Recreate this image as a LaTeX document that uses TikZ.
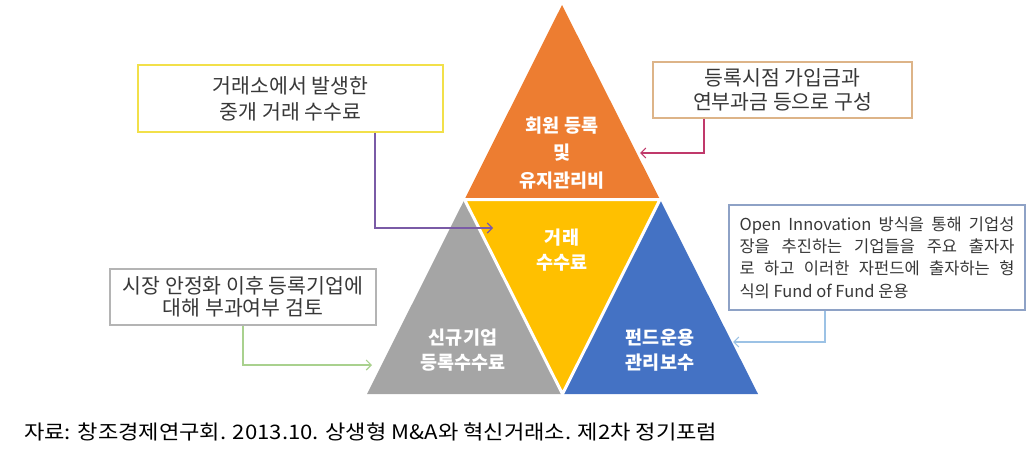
\documentclass[tikz,border=0pt]{standalone}
\usepackage{fontspec}
\usepackage{graphicx}
\setmainfont{Noto Sans CJK KR}
\usetikzlibrary{arrows.meta,calc}
\definecolor{triorange}{HTML}{ED7D31}
\definecolor{triyellow}{HTML}{FFC000}
\definecolor{trigray}{HTML}{A5A5A5}
\definecolor{triblue}{HTML}{4472C4}
\definecolor{bordyellow}{HTML}{F2E04A}
\definecolor{bordtan}{HTML}{DDB488}
\definecolor{bordblue}{HTML}{8EA2C6}
\definecolor{bordgray}{HTML}{B4B4B4}
\definecolor{lnpurple}{HTML}{7A5BA6}
\definecolor{lncrimson}{HTML}{C0396B}
\definecolor{lnblue}{HTML}{9CC2E5}
\definecolor{lngreen}{HTML}{A9D18E}
\definecolor{txtdark}{HTML}{383838}
\begin{document}
\begin{tikzpicture}[x=1pt,y=-1pt,
  lbl/.style={text=white,font=\fontsize{18.5}{25.5}\selectfont\bfseries,align=center,inner sep=0pt},
  notebox/.style={draw,line width=1.1pt,fill=white,text=txtdark,align=center,inner sep=0pt,
     font=\fontsize{20.5}{25}\selectfont},
  conn/.style={line width=1.1pt,-{Straight Barb[length=5pt,width=10pt]}}]
\useasboundingbox (0,0) rectangle (1032,450);
% triangles
\coordinate (A) at (562,5);
\coordinate (L) at (367,394);
\coordinate (R) at (758,394);
\coordinate (ML) at ($(A)!0.5!(L)$);
\coordinate (MR) at ($(A)!0.5!(R)$);
\coordinate (MB) at ($(L)!0.5!(R)$);
\fill[triorange] (A) -- (ML) -- (MR) -- cycle;
\fill[trigray] (ML) -- (L) -- (MB) -- cycle;
\fill[triyellow] (ML) -- (MR) -- (MB) -- cycle;
\fill[triblue] (MR) -- (MB) -- (R) -- cycle;
\draw[white,line width=3pt,line join=miter] (ML) -- (MR) -- (MB) -- cycle;
% labels
\node[lbl,font=\fontsize{18.5}{27.5}\selectfont\bfseries] (lo) at (562,153) {회원 등록\\및\\유지관리비};
\node[lbl] (ly) at (562,250) {거래\\수수료};
\node[lbl] (lg) at (463,350) {신규기업\\등록수수료};
\node[lbl] (lb) at (660,350) {펀드운용\\관리보수};
% boxes
\node[notebox,draw=bordyellow,minimum width=305pt,minimum height=67pt,
      font=\fontsize{20.5}{26}\selectfont] (b1) at (290.5,98.5) {거래소에서 발생한\\중개 거래 수수료};
\node[notebox,draw=bordtan,minimum width=259pt,minimum height=56pt,
      font=\fontsize{20.5}{24}\selectfont] (b2) at (782.5,90) {등록시점 가입금과\\연부과금 등으로 구성};
\node[notebox,draw=bordblue,minimum width=296pt,minimum height=105pt,align=left,
      font=\fontsize{16.5}{22.3}\selectfont] (b3) at (877,257.5)
  {\makebox[275pt][s]{Open Innovation 방식을 통해 기업성}\\
   \makebox[275pt][s]{장을 추진하는 기업들을 주요 출자자}\\
   \makebox[275pt][s]{로 하고 이러한 자펀드에 출자하는 형}\\
   식의 Fund of Fund 운용};
\node[notebox,draw=bordgray,minimum width=266pt,minimum height=56pt,
      font=\fontsize{20.5}{22}\selectfont] (b4) at (243,297) {시장 안정화 이후 등록기업에\\대해 부과여부 검토};
% connectors
\coordinate (t1) at (493,228);
\coordinate (t2) at (640,153);
\coordinate (t3) at (733,342);
\coordinate (t4) at (372,365);
\draw[conn,lnpurple] ([xshift=84.5pt]b1.south) |- (t1);
\draw[conn,lncrimson] ([xshift=-78.5pt]b2.south) |- (t2);
\draw[conn,lnblue] ([xshift=-52pt]b3.south) |- (t3);
\draw[conn,lngreen] (b4.south) |- (t4);
% caption
\node[anchor=west,inner sep=0pt,font=\fontsize{20}{22}\selectfont] (cap) at (24,432)
  {\resizebox{693pt}{\height}{자료: 창조경제연구회. 2013.10. 상생형 M\&A와 혁신거래소. 제2차 정기포럼}};
\end{tikzpicture}
\end{document}
